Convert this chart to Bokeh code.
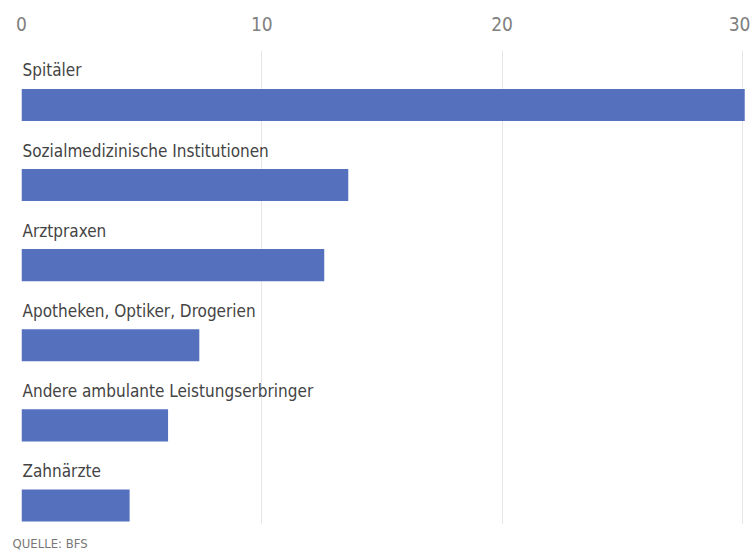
from bokeh.plotting import figure
from bokeh.models import ColumnDataSource, Range1d, FixedTicker, Title
from bokeh.core.properties import value
from bokeh.embed import file_html
from bokeh.resources import INLINE

categories = ["Spitäler", "Sozialmedizinische Institutionen", "Arztpraxen",
              "Apotheken, Optiker, Drogerien", "Andere ambulante Leistungserbringer",
              "Zahnärzte"]
values = [30.1, 13.6, 12.6, 7.4, 6.1, 4.5]
x_ticks = [0, 10, 20, 30]
source_note = "QUELLE: BFS"

FONT = "'Liberation Sans Narrow', 'DejaVu Sans Condensed', 'Roboto', sans-serif"

pos = list(range(len(categories)))
src = ColumnDataSource(dict(y=pos, v=values, cat=categories,
                            ly=[p_ - 0.43 for p_ in pos]))

p = figure(width=750, height=560, output_backend="svg", toolbar_location=None,
           x_axis_location="above",
           x_range=Range1d(0, 30.34), y_range=Range1d(5.237, -0.679),
           min_border_left=21, min_border_right=0, min_border_top=50,
           min_border_bottom=35)

p.hbar(y="y", right="v", left=0, height=0.4, source=src,
       fill_color="#5571be", line_color=None)
p.text(x=0, y="ly", text="cat", source=src, x_offset=1,
       text_font=value(FONT), text_font_size="17px", text_color="#444444",
       text_baseline="alphabetic", text_align="left")

p.outline_line_color = None
p.ygrid.visible = False
p.yaxis.visible = False
p.xgrid.grid_line_color = "#e6e6e6"
p.xgrid.ticker = FixedTicker(ticks=x_ticks)
xa = p.xaxis[0]
xa.ticker = FixedTicker(ticks=x_ticks)
xa.axis_line_color = None
xa.major_tick_line_color = None
xa.minor_tick_line_color = None
xa.major_label_text_font = FONT
xa.major_label_text_font_size = "19px"
xa.major_label_text_color = "#808080"
xa.major_label_standoff = 14

p.add_layout(Title(text=source_note, align="left", text_font=FONT,
                   text_font_size="13px", text_font_style="normal",
                   text_color="#777777", offset=-9, standoff=19), "below")

open("out.html", "w").write(file_html(p, INLINE))
